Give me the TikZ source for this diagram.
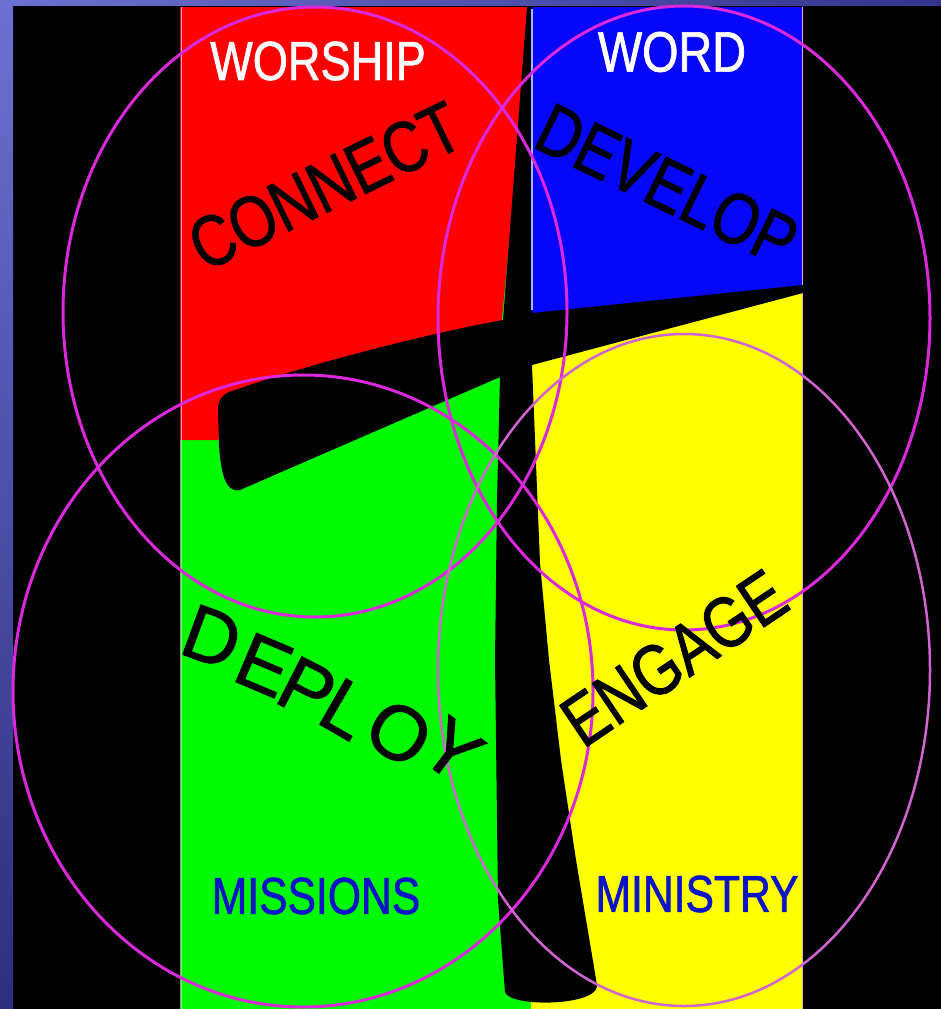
\documentclass[tikz,border=0pt]{standalone}
\usepackage{fontspec}
\newfontfamily\wordfont[FakeStretch=0.82, FakeBold=1.2]{Liberation Sans}
\newfontfamily\arcfont[FakeBold=1.2]{Liberation Sans}
\definecolor{ringpink}{RGB}{220,40,220}
\definecolor{ringpale}{RGB}{208,100,208}
\definecolor{frametop}{RGB}{108,112,208}
\definecolor{framebot}{RGB}{44,46,126}
\definecolor{frameend}{RGB}{52,52,140}
\definecolor{redpart}{RGB}{255,0,0}
\definecolor{bluepart}{RGB}{6,6,250}
\definecolor{greenpart}{RGB}{0,250,0}
\definecolor{yellowpart}{RGB}{255,255,0}
\definecolor{inkblue}{RGB}{12,20,200}

\begin{document}
\begin{tikzpicture}[x=1pt, y=-1pt,
  ring/.style={draw=ringpink, line width=3pt},
  heading/.style={font=\wordfont\fontsize{#1}{#1}\selectfont, inner sep=0pt},
  arcletter/.style={font=\arcfont\fontsize{77}{77}\selectfont, inner sep=0pt, rotate=#1}]
  \useasboundingbox (0,0) rectangle (941,1009);
  \fill[black] (0,0) rectangle (941,1009);
  \shade[top color=frametop, bottom color=framebot] (0,0) rectangle (13,1009);
  \shade[left color=frametop, right color=frameend] (0,0) rectangle (941,5);

  % four coloured quarters
  \fill[greenpart] (180,7) rectangle (531,1009);
  \fill[yellowpart] (531,7) rectangle (803,1009);
  \fill[redpart] (180,7) -- (531,7) -- (500,340) -- (230,420) -- (218,440) -- (180,440) -- cycle;
  \fill[bluepart] (531,7) -- (803,7) -- (803,289) -- (531,330) -- cycle;
  \draw[ringpale!60, line width=1pt] (181,7) -- (181,1009) (802,7) -- (802,1009);

  % the cross
  \fill[black] (527,7) -- (532,7) -- (532,313) -- (803,285) -- (803,293) -- (532,365)
    -- (540,563) -- (549,660) -- (561,760) -- (576,860) -- (597,985)
    .. controls (599,1006) and (510,1008) .. (505,992)
    -- (498,900) -- (495,660) -- (497,500) -- (500,377)
    .. controls (413,415) and (327,452) .. (240,490)
    .. controls (226,493) and (221,475) .. (219,445)
    -- (218,410) .. controls (218,398) and (224,393) .. (235,390)
    .. controls (300,367) and (420,335) .. (503,320) -- cycle;
  \draw[blue!30!white, line width=1.5pt] (532,9) -- (532,310);

  % rings
  \draw[ring] (315,312) ellipse (252 and 305);
  \draw[ring] (684,318) ellipse (246 and 312);
  \draw[ring] (303,691) ellipse (290 and 316);
  \draw[ring, draw=ringpale, line width=2.5pt] (684,670) ellipse (246 and 336);

  \node[heading=55, white] (worship) at (318,61) {WORSHIP};
  \node[heading=57, white] (word) at (672,52) {WORD};
  \node[heading=72, rotate=26] (connect) at (325,186) {CONNECT};
  \node[heading=72, rotate=-26] (develop) at (667,185) {DEVELOP};
  \node[heading=72, rotate=34] (engage) at (674,658) {ENGAGE};
  \node[arcletter=-20] (depD) at (212,637) {D};
  \node[arcletter=-23] (depE) at (264,665) {E};
  \node[arcletter=-27] (depP) at (307,689) {P};
  \node[arcletter=-30] (depL) at (346,709) {L};
  \node[arcletter=-33] (depO) at (399,733) {O};
  \node[arcletter=-37] (depY) at (452,750) {Y};
  \node[heading=52, inkblue] (missions) at (316,896) {MISSIONS};
  \node[heading=52, inkblue] (ministry) at (697,894) {MINISTRY};
\end{tikzpicture}
\end{document}
